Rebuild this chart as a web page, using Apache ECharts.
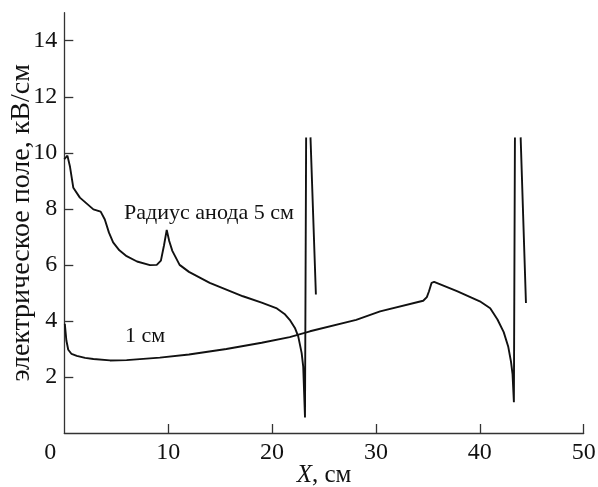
<!DOCTYPE html>
<html><head><meta charset="utf-8">
<script src="https://cdn.jsdelivr.net/npm/echarts@6/dist/echarts.min.js"></script>
<style>html,body{margin:0;padding:0;background:#fff}#c{width:598px;height:487px}</style>
</head><body><div id="c"></div>
<script>
// Anode radius 5 cm curve (X, cm ; field, kV/cm); '-' breaks the line
const r5X = [0.0,0.3,0.55,0.87,1.5,2.8,3.5,3.9,4.3,4.7,5.3,6.0,7.0,8.25,8.9,9.3,9.6,9.86,10.1,10.4,11.1,12.0,14.0,17.2,19.0,20.4,21.2,21.7,22.2,22.52,22.85,23.0,23.17,23.28,23.5,23.7,24.22];
const r5Y = [9.77,9.9,9.5,8.75,8.4,7.98,7.9,7.62,7.15,6.8,6.52,6.31,6.12,5.99,6.0,6.15,6.7,7.25,6.85,6.5,6.0,5.75,5.36,4.88,4.65,4.46,4.25,4.04,3.75,3.45,2.85,2.37,0.55,10.55,'-',10.55,4.94];
// Anode radius 1 cm curve
const r1X = [0.05,0.2,0.38,0.7,1.2,2.0,2.8,4.4,6.0,9.2,12.0,15.6,19.0,21.7,23.65,28.1,30.4,34.55,34.9,35.1,35.36,35.6,37.8,40.0,41.0,41.7,42.3,42.73,43.0,43.15,43.28,43.38,43.6,43.93,44.44];
const r1Y = [3.9,3.3,2.97,2.82,2.75,2.68,2.64,2.59,2.6,2.69,2.8,3.0,3.22,3.42,3.63,4.04,4.34,4.72,4.85,5.05,5.36,5.39,5.06,4.7,4.45,4.05,3.6,3.09,2.55,2.1,1.1,10.55,'-',10.55,4.64];
const xTicks = [0,10,20,30,40,50];
const yTicks = [2,4,6,8,10,12,14];
const notes = [
  {text:'Радиус анода 5 см', x:13.93, y:7.84},
  {text:'1 см', x:7.77, y:3.47}
];

const F = '"Liberation Serif","Times New Roman",serif';
const chart = echarts.init(document.getElementById('c'), null, {renderer:'canvas'});
const zip = (xs, ys) => xs.map((x,i)=>[x, ys[i]]);
const lineStyle = {color:'#111', width:1.9};
chart.setOption({
  animation:false,
  backgroundColor:'#fff',
  grid:{left:64.3, right:14.3, top:12.7, bottom:54, containLabel:false, outerBoundsMode:'none'},
  xAxis:{
    type:'value', min:0, max:50,
    axisLine:{lineStyle:{color:'#333', width:1.3}},
    axisTick:{inside:true, length:9, customValues:xTicks.filter(v=>v>0), lineStyle:{color:'#333', width:1.3}},
    axisLabel:{customValues:xTicks, color:'#111', fontFamily:F, fontSize:24, margin:8,
      formatter: v => v === 0 ? '{z|0}' : String(v),
      rich:{z:{fontFamily:F, fontSize:24, color:'#111', padding:[0,28,0,0]}}},
    splitLine:{show:false},
    name:'{i|X}, см', nameLocation:'middle', nameGap:30, nameMoveOverlap:false,
    nameTextStyle:{color:'#111', fontFamily:F, fontSize:25, rich:{i:{fontStyle:'italic', fontFamily:F, fontSize:25, color:'#111'}}}
  },
  yAxis:{
    type:'value', min:0, max:15,
    axisLine:{show:true, lineStyle:{color:'#333', width:1.3}},
    axisTick:{show:true, inside:true, length:9, customValues:yTicks, lineStyle:{color:'#333', width:1.3}},
    axisLabel:{customValues:yTicks, color:'#111', fontFamily:F, fontSize:24, margin:7},
    splitLine:{show:false},
    name:'электрическое поле, кВ/см', nameLocation:'middle', nameGap:29, nameMoveOverlap:false,
    nameTextStyle:{color:'#111', fontFamily:F, fontSize:28}
  },
  series:[
    {type:'line', data:zip(r5X, r5Y), showSymbol:false, symbol:'none', lineStyle, connectNulls:false, clip:true},
    {type:'line', data:zip(r1X, r1Y), showSymbol:false, symbol:'none', lineStyle, connectNulls:false, clip:true}
  ]
});
chart.setOption({
  graphic: notes.map(n => {
    const p = chart.convertToPixel({gridIndex:0}, [n.x, n.y]);
    return {type:'text', x:p[0], y:p[1], style:{text:n.text, fill:'#111', font:'22px '+F, textAlign:'center', textVerticalAlign:'middle'}};
  })
});
</script></body></html>
